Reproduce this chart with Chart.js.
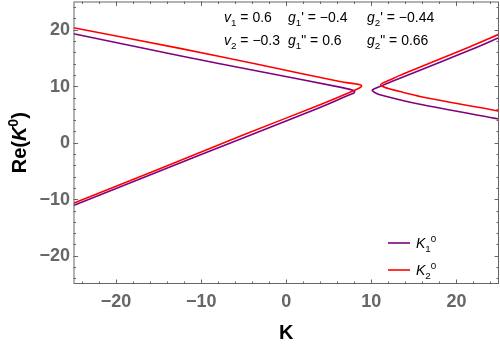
<!DOCTYPE html>
<html>
<head>
<meta charset="utf-8">
<script src="https://cdn.jsdelivr.net/npm/chart.js@4/dist/chart.umd.min.js"></script>
<style>
  html, body { margin: 0; padding: 0; background: #fff; }
</style>
</head>
<body>
<canvas id="chart" width="500" height="345"></canvas>
<script>
// --- data ---
// K2^0 (red), left branch: upper arm -> nose -> lower arm
const k2LeftX = [-25, -12.5, -3.1, 6.3, 8.2, 8.7, 8.85, 8.6, 7.9, 3.9, -5, -15, -25];
const k2LeftY = [20.35, 16.7, 13.8, 10.85, 10.4, 10.25, 10.0, 9.7, 9.2, 6.7, 1.4, -4.7, -10.7];
// K2^0 (red), right branch
const k2RightX = [25, 21.6, 13.8, 12.0, 11.3, 11.1, 11.4, 12.2, 15.7, 25];
const k2RightY = [19.2, 17.0, 12.2, 11.0, 10.55, 10.25, 9.9, 9.5, 8.2, 5.6];
// K1^0 (purple), left branch
const k1LeftX = [-25, -12.5, -3.1, 6.3, 7.6, 8.05, 7.9, 7.3, 3.9, -5, -15, -25];
const k1LeftY = [19.3, 15.4, 12.6, 9.85, 9.4, 9.05, 8.75, 8.4, 6.2, 0.9, -5.1, -11.1];
// K1^0 (purple), right branch
const k1RightX = [25, 21.6, 13.8, 11.0, 10.3, 10.1, 10.4, 11.0, 15.7, 25];
const k1RightY = [18.6, 16.4, 11.7, 9.95, 9.5, 9.25, 8.9, 8.5, 6.8, 4.2];

const xTicks = [-20, -10, 0, 10, 20];
const yTicks = [-20, -10, 0, 10, 20];
const minorTicks = [-24, -22, -18, -16, -14, -12, -8, -6, -4, -2, 2, 4, 6, 8, 12, 14, 16, 18, 22, 24];

const PURPLE = '#800080';
const RED = '#ff0000';
const AXIS_GRAY = '#666666';
const FONT = '"Liberation Sans", Arial, sans-serif';

const toPoints = (xs, ys) => xs.map((x, i) => ({ x: x, y: ys[i] }));
const tickText = v => String(v).replace('-', '\u2212');

function curve(xs, ys, color) {
    return {
        data: toPoints(xs, ys),
        borderColor: color,
        borderWidth: 1.6,
        showLine: true,
        pointRadius: 0,
        tension: 0.25,
        fill: false
    };
}

// rich text: parts are [text, kind]; kind n | i | sub | sup | b | bi | bsup
function setFont(ctx, kind, size) {
    let style = '', weight = '', fs = size;
    if (kind === 'i' || kind === 'bi') style = 'italic ';
    if (kind === 'b' || kind === 'bi' || kind === 'bsup') weight = 'bold ';
    if (kind === 'sub' || kind === 'sup' || kind === 'bsup') fs = size * 0.7;
    ctx.font = style + weight + fs + 'px ' + FONT;
}

function richWidth(ctx, parts, size) {
    let w = 0;
    parts.forEach(p => {
        setFont(ctx, p[1], size);
        w += ctx.measureText(p[0]).width;
    });
    return w;
}

function drawRich(ctx, x, y, parts, size) {
    let cx = x;
    parts.forEach(p => {
        const kind = p[1];
        setFont(ctx, kind, size);
        let dy = 0;
        if (kind === 'sub') dy = size * 0.3;
        if (kind === 'sup' || kind === 'bsup') dy = -size * 0.42;
        ctx.fillText(p[0], cx, y + dy);
        cx += ctx.measureText(p[0]).width;
    });
}

const annoLine1 = [
    [['v', 'i'], ['1', 'sub'], [' = 0.6', 'n']],
    [['g', 'i'], ['1', 'sub'], ["' = \u22120.4", 'n']],
    [['g', 'i'], ['2', 'sub'], ["' = \u22120.44", 'n']]
];
const annoLine2 = [
    [['v', 'i'], ['2', 'sub'], [' = \u22120.3', 'n']],
    [['g', 'i'], ['1', 'sub'], ['" = 0.6', 'n']],
    [['g', 'i'], ['2', 'sub'], ['" = 0.66', 'n']]
];

const framePlugin = {
    id: 'frame',
    afterDatasetsDraw(chart) {
        const { ctx, chartArea: a, scales } = chart;
        const xs = scales.x, ys = scales.y;
        ctx.save();
        ctx.strokeStyle = AXIS_GRAY;
        ctx.lineWidth = 1;
        ctx.strokeRect(a.left + 0.5, a.top + 0.5, a.right - a.left - 1, a.bottom - a.top - 1);

        const tick = (v, len) => {
            const px = Math.round(xs.getPixelForValue(v)) + 0.5;
            const py = Math.round(ys.getPixelForValue(v)) + 0.5;
            ctx.beginPath();
            ctx.moveTo(px, a.bottom); ctx.lineTo(px, a.bottom - len);
            ctx.moveTo(px, a.top); ctx.lineTo(px, a.top + len);
            ctx.moveTo(a.left, py); ctx.lineTo(a.left + len, py);
            ctx.moveTo(a.right, py); ctx.lineTo(a.right - len, py);
            ctx.stroke();
        };
        xTicks.forEach(v => tick(v, 4.5));
        minorTicks.forEach(v => tick(v, 2.5));

        // tick labels
        ctx.fillStyle = AXIS_GRAY;
        ctx.font = 'bold 18px ' + FONT;
        ctx.textBaseline = 'middle';
        ctx.textAlign = 'center';
        xTicks.forEach(v => ctx.fillText(tickText(v), xs.getPixelForValue(v), 302));
        ctx.textAlign = 'right';
        yTicks.forEach(v => ctx.fillText(tickText(v), 70, ys.getPixelForValue(v) + 0.5));

        // axis titles
        ctx.fillStyle = '#000';
        ctx.textBaseline = 'alphabetic';
        ctx.font = 'bold 20px ' + FONT;
        ctx.textAlign = 'center';
        ctx.fillText('K', xs.getPixelForValue(0), 339);
        ctx.textAlign = 'left';

        const yTitle = [['Re(', 'b'], ['K', 'bi'], ['0', 'bsup'], [')', 'b']];
        const w = richWidth(ctx, yTitle, 20);
        ctx.save();
        ctx.translate(26, ys.getPixelForValue(0));
        ctx.rotate(-Math.PI / 2);
        drawRich(ctx, -w / 2, 0, yTitle, 20);
        ctx.restore();

        // parameter annotation
        const starts = [224, 288, 367];
        annoLine1.forEach((parts, i) => drawRich(ctx, starts[i], 21.5, parts, 14));
        annoLine2.forEach((parts, i) => drawRich(ctx, starts[i], 45, parts, 14));

        // legend
        const legend = [
            { color: PURPLE, y: 243, sub: '1' },
            { color: RED, y: 270, sub: '2' }
        ];
        legend.forEach(l => {
            ctx.strokeStyle = l.color;
            ctx.lineWidth = 1.6;
            ctx.beginPath();
            ctx.moveTo(388, l.y); ctx.lineTo(410, l.y);
            ctx.stroke();
            ctx.fillStyle = '#000';
            drawRich(ctx, 416, l.y + 5, [['K', 'i'], [l.sub, 'sub'], ['0', 'sup']], 14);
        });
        ctx.restore();
    }
};

new Chart(document.getElementById('chart'), {
    type: 'scatter',
    data: {
        datasets: [
            curve(k2LeftX, k2LeftY, RED),
            curve(k2RightX, k2RightY, RED),
            curve(k1LeftX, k1LeftY, PURPLE),
            curve(k1RightX, k1RightY, PURPLE)
        ]
    },
    options: {
        responsive: false,
        animation: false,
        layout: { padding: { top: 1.5, right: 1, left: 0, bottom: 0 } },
        plugins: {
            legend: { display: false },
            tooltip: { enabled: false }
        },
        scales: {
            x: {
                type: 'linear',
                min: -25, max: 25,
                afterBuildTicks: s => { s.ticks = xTicks.map(v => ({ value: v })); },
                afterFit: s => { s.height = 61; },
                grid: { display: false, drawTicks: false },
                border: { display: false },
                ticks: { display: false }
            },
            y: {
                type: 'linear',
                min: -25, max: 25,
                afterBuildTicks: s => { s.ticks = yTicks.map(v => ({ value: v })); },
                afterFit: s => { s.width = 73.5; },
                grid: { display: false, drawTicks: false },
                border: { display: false },
                ticks: { display: false }
            }
        }
    },
    plugins: [framePlugin]
});
</script>
</body>
</html>
